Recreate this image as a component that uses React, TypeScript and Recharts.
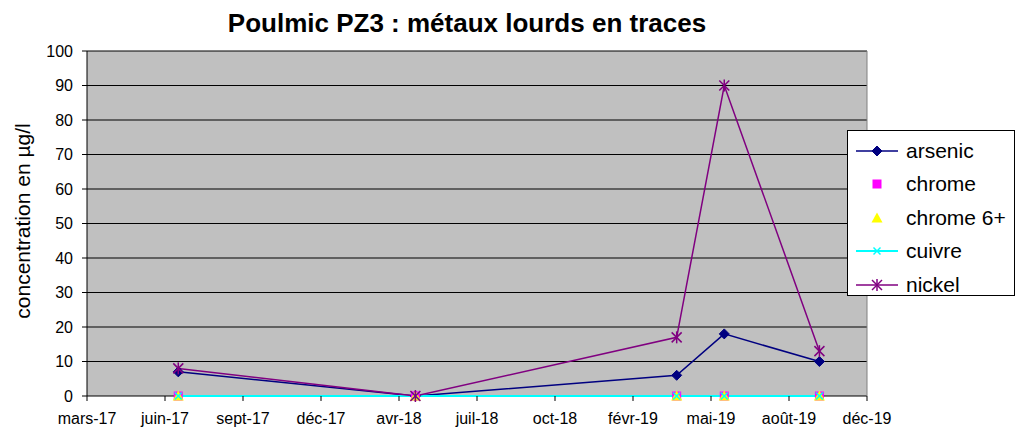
import { LineChart, Line, XAxis, YAxis, CartesianGrid, Legend, ReferenceLine } from "recharts";

// axis starts on 1 March 2017, one tick every 100 days
const START_DATE = "2017-03-01";
const xTickLabels = [
  "mars-17", "juin-17", "sept-17", "déc-17", "avr-18", "juil-18",
  "oct-18", "févr-19", "mai-19", "août-19", "déc-19",
];
const yTicks = [0, 10, 20, 30, 40, 50, 60, 70, 80, 90, 100];

const sampleDates = ["2017-06-26", "2018-04-26", "2019-03-27", "2019-05-27", "2019-09-26"];
const arsenic = [7, 0, 6, 18, 10];
const chrome = [0, 0, 0, 0, 0];
const chrome6 = [0, 0, 0, 0, 0];
const cuivre = [0, 0, 0, 0, 0];
const nickel = [8, 0, 17, 90, 13];

const DAY = 86400000;
const toDay = (d: string) => Math.round((Date.parse(d) - Date.parse(START_DATE)) / DAY);
const xTicks = xTickLabels.map((_, i) => i * 100);

const data = sampleDates.map((d, i) => ({
  day: toDay(d),
  arsenic: arsenic[i],
  chrome: chrome[i],
  chrome6: chrome6[i],
  cuivre: cuivre[i],
  nickel: nickel[i],
}));

type Mark = "diamond" | "square" | "triangle" | "cross" | "star";

const SERIES: { key: string; name: string; color: string; mark: Mark; line: boolean; width: number }[] = [
  { key: "arsenic", name: "arsenic", color: "#000080", mark: "diamond", line: true, width: 1.5 },
  { key: "chrome", name: "chrome", color: "#ff00ff", mark: "square", line: false, width: 0 },
  { key: "chrome6", name: "chrome 6+", color: "#ffff00", mark: "triangle", line: false, width: 0 },
  { key: "cuivre", name: "cuivre", color: "#00ffff", mark: "cross", line: true, width: 2 },
  { key: "nickel", name: "nickel", color: "#800080", mark: "star", line: true, width: 1.5 },
];

const FONT = "Arial, 'Liberation Sans', sans-serif";

function Marker({ type, cx, cy, color }: { type: Mark; cx: number; cy: number; color: string }) {
  switch (type) {
    case "diamond":
      return <path d={`M${cx},${cy - 5}L${cx + 5},${cy}L${cx},${cy + 5}L${cx - 5},${cy}Z`} fill={color} stroke={color} />;
    case "square":
      return <rect x={cx - 4.5} y={cy - 4.5} width={9} height={9} fill={color} />;
    case "triangle":
      return <path d={`M${cx},${cy - 5.5}L${cx + 5.5},${cy + 4.5}L${cx - 5.5},${cy + 4.5}Z`} fill={color} />;
    case "cross":
      return (
        <g stroke={color} strokeWidth={1.5}>
          <line x1={cx - 3.5} y1={cy - 3.5} x2={cx + 3.5} y2={cy + 3.5} />
          <line x1={cx - 3.5} y1={cy + 3.5} x2={cx + 3.5} y2={cy - 3.5} />
        </g>
      );
    default:
      return (
        <g stroke={color} strokeWidth={1.5}>
          <line x1={cx - 5} y1={cy - 5} x2={cx + 5} y2={cy + 5} />
          <line x1={cx - 5} y1={cy + 5} x2={cx + 5} y2={cy - 5} />
          <line x1={cx} y1={cy - 6} x2={cx} y2={cy + 6} />
        </g>
      );
  }
}

function LegendBox() {
  return (
    <div
      style={{
        width: 166,
        height: 161,
        border: "1px solid #000",
        background: "#fff",
        boxSizing: "content-box",
        fontFamily: FONT,
        fontSize: 21,
        paddingTop: 3,
      }}
    >
      {SERIES.map((s) => (
        <div key={s.key} style={{ display: "flex", alignItems: "center", height: 33.5 }}>
          <svg width={54} height={20} style={{ marginLeft: 4 }}>
            {s.line && <line x1={4} y1={10} x2={46} y2={10} stroke={s.color} strokeWidth={s.width} />}
            <Marker type={s.mark} cx={25} cy={10} color={s.color} />
          </svg>
          <span style={{ marginLeft: 0, whiteSpace: "nowrap" }}>{s.name}</span>
        </div>
      ))}
    </div>
  );
}

export default function App() {
  return (
    <div style={{ position: "absolute", left: 0, top: 0, width: 1018, height: 434, background: "#fff" }}>
      <div
        style={{
          position: "absolute",
          left: 167,
          top: 10,
          width: 600,
          textAlign: "center",
          fontFamily: FONT,
          fontWeight: "bold",
          fontSize: 26,
          lineHeight: "26px",
        }}
      >
        Poulmic PZ3 : métaux lourds en traces
      </div>
      <LineChart width={1018} height={434} data={data} margin={{ top: 51, right: 151, bottom: 0, left: 0 }}>
        <CartesianGrid vertical={false} stroke="#000" fill="#c0c0c0" fillOpacity={1} />
        <XAxis
          dataKey="day"
          type="number"
          domain={[0, 1000]}
          ticks={xTicks}
          tickFormatter={(v: number) => xTickLabels[Math.round(v / 100)]}
          interval={0}
          height={38}
          stroke="#000"
          axisLine={false}
          tickSize={5}
          tickMargin={12}
          tick={{ fill: "#000", fontSize: 16, fontFamily: FONT }}
        />
        <YAxis
          domain={[0, 100]}
          ticks={yTicks}
          interval={0}
          width={87}
          stroke="#000"
          tickSize={5}
          tickMargin={9}
          tick={{ fill: "#000", fontSize: 16, fontFamily: FONT }}
          label={{
            content: () => (
              <text
                x={22}
                y={221}
                transform="rotate(-90 22 221)"
                textAnchor="middle"
                dominantBaseline="central"
                fontSize={21}
                fontFamily={FONT}
                fill="#000"
              >
                concentration en µg/l
              </text>
            ),
          }}
        />
        <ReferenceLine x={1000} stroke="#808080" />
        {SERIES.map((s) => (
          <Line
            key={s.key}
            dataKey={s.key}
            name={s.name}
            type="linear"
            stroke={s.line ? s.color : "none"}
            strokeWidth={s.width}
            isAnimationActive={false}
            activeDot={false}
            dot={(p: any) => <Marker key={`${s.key}-${p.index}`} type={s.mark} cx={p.cx} cy={p.cy} color={s.color} />}
          />
        ))}
        <Legend
          layout="horizontal"
          align="center"
          verticalAlign="middle"
          wrapperStyle={{ left: 847, top: 130, width: 168, height: 163 }}
          content={() => <LegendBox />}
        />
      </LineChart>
    </div>
  );
}
